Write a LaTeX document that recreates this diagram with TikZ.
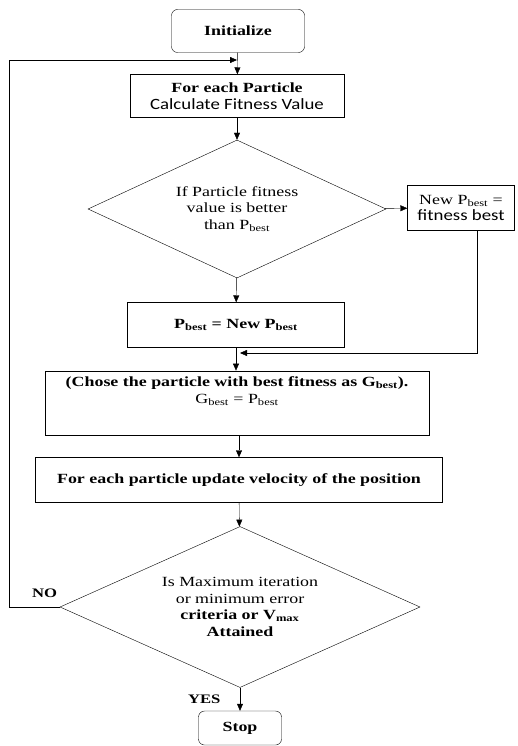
\documentclass[tikz,border=0pt]{standalone}
\usepackage{fontspec}
\setmainfont[FakeStretch=1.28]{Liberation Serif}
\newfontfamily\calib[FakeStretch=1.2,Scale=1.12]{Carlito}
\usetikzlibrary{shapes.geometric,arrows.meta}
\tikzset{
->,
>={Triangle[length=7pt,width=6pt]},
line width=1.1pt,
every node/.style={font=\fontsize{14}{16.5}\selectfont},
box/.style={draw, rectangle, align=center, inner sep=2pt},
term/.style={draw, rectangle, rounded corners=6pt, font=\bfseries\fontsize{14}{16.5}\selectfont},
cond/.style={draw, diamond, align=center, inner sep=0pt, shape aspect=2.2},
}

\begin{document}
\begin{tikzpicture}[x=1pt,y=-1pt]
        \useasboundingbox (0,0) rectangle (518,746);

        \node[term,minimum width=133pt,minimum height=43pt] (init) at (238,31) {Initialize};
        \node[box,minimum width=214pt,minimum height=43pt] (calc) at (237,96) {\textbf{For each Particle}\\{\calib Calculate Fitness Value}};
        \node[cond,minimum width=298pt,minimum height=138pt] (dec1) at (237,209) {If Particle fitness\\value is better\\than P\textsubscript{best}};
        \node[box,minimum width=107pt,minimum height=45pt] (newp) at (461,208) {New P\textsubscript{best} =\\{\calib fitness best}};
        \node[box,minimum width=217pt,minimum height=45pt] (pupd) at (236,325) {\textbf{P\textsubscript{best} = New P\textsubscript{best}}};
        \node[box,minimum width=384pt,inner ysep=6pt,text depth=26pt] (gsel) at (237,403) {\textbf{(Chose the particle with best fitness as G\textsubscript{best}).}\\G\textsubscript{best} = P\textsubscript{best}};
        \node[box,minimum width=407pt,minimum height=45pt] (vel) at (239,480) {\textbf{For each particle update velocity of the position}};
        \node[cond,minimum width=360pt,minimum height=161pt] (dec2) at (240,607) {Is Maximum iteration\\or minimum error\\\textbf{criteria or V\textsubscript{max}}\\\textbf{Attained}};
        \node[term,minimum width=83pt,minimum height=34pt] (stop) at (240,728) {Stop};

        \coordinate (join1) at (237,60);
        \coordinate (join2) at (240,353);
        \coordinate (loopcorner) at (9,60);

        \draw (init) -- (calc);
        \draw (calc) -- (dec1);
        \draw (dec1) -- (newp);
        \draw (dec1) -- (pupd);
        \draw ([xshift=16pt]newp.south) |- (join2);
        \draw (pupd.south) -- (pupd.south |- gsel.north);
        \draw (vel.north |- gsel.south) -- (vel.north);
        \draw (vel) -- (dec2);
        \draw (dec2) -- node[left=16pt,font=\bfseries\fontsize{13}{15}\selectfont]{YES} (stop);
        \draw (dec2.west) -- node[pos=0.3,above=6pt,font=\bfseries\fontsize{13}{15}\selectfont]{NO} (dec2.west -| loopcorner) -- (loopcorner) -- (join1);
    \end{tikzpicture}
\end{document}
